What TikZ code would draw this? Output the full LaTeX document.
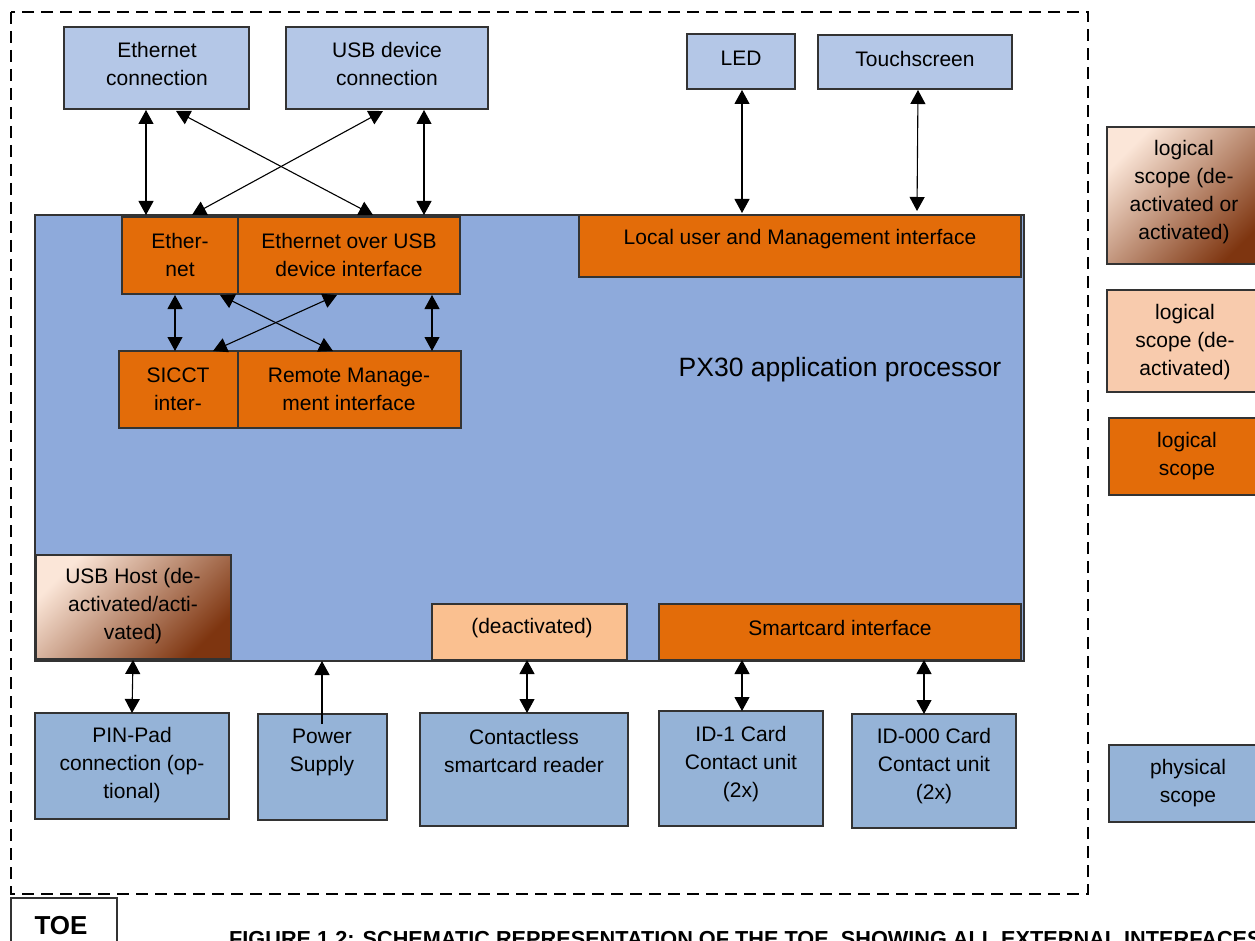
\documentclass[tikz,border=0pt]{standalone}
\usepackage{fontspec}
\setmainfont{Liberation Sans}
\usetikzlibrary{arrows.meta}
\definecolor{topblue}{HTML}{B4C7E7}
\definecolor{procblue}{HTML}{8EAADB}
\definecolor{botblue}{HTML}{95B3D7}
\definecolor{orng}{HTML}{E36C09}
\definecolor{deact}{HTML}{FAC090}
\definecolor{deactleg}{HTML}{F8CBAD}
\definecolor{gradlight}{HTML}{FBE6D8}
\definecolor{gradmid}{HTML}{CCA898}
\definecolor{graddark}{HTML}{7E3510}
\definecolor{bordr}{HTML}{333333}
\newcommand\BX[6]{\node[#6, anchor=north west, minimum width={#4-#2}, minimum height={#5-#3}] (#1) at (#2,#3) {};}
\tikzset{
  bx/.style={draw=bordr, line width=1.1pt, inner sep=0pt, outer sep=0pt, rectangle},
  topbox/.style={bx, fill=topblue},
  botbox/.style={bx, fill=botblue},
  orbox/.style={bx, fill=orng},
  deactbox/.style={bx, fill=deact},
  gradbox/.style={bx, top color=gradlight, middle color=gradmid, bottom color=graddark, shading angle=45},
  txt/.style={font=\fontsize{21}{28}\selectfont, align=center, inner sep=0pt},
  biarr/.style={line width=1.1pt, {Triangle[width=15pt,length=14pt]}-{Triangle[width=15pt,length=14pt]}},
  uparr/.style={line width=1.1pt, -{Triangle[width=15pt,length=14pt]}},
}
\begin{document}
\begin{tikzpicture}[x=1pt,y=-1pt]
\useasboundingbox (0,0) rectangle (1255,941);
\fill[white] (0,0) rectangle (1255,941);
% outer dashed TOE boundary
\draw[line width=2.2pt, dash pattern=on 12pt off 7pt] (11,12) rectangle (1088,894);
% top external boxes
\BX{ethc}{64}{27}{249}{109}{topbox}
\BX{usbd}{286}{27}{488}{109}{topbox}
\BX{led}{687}{34}{795}{89}{topbox}
\BX{touch}{818}{35}{1012}{89}{topbox}
\node[txt] (ethc-t) at (157,64) {Ethernet\\connection};
\node[txt] (usbd-t) at (387,64) {USB device\\connection};
\node[txt] (led-t) at (741,58) {LED};
\node[txt] (touch-t) at (915,59) {Touchscreen};
% processor
\BX{proc}{35}{215}{1024}{661}{bx, fill=procblue}
\node[font=\fontsize{26.5}{32}\selectfont, anchor=base, inner sep=0pt] (proc-t) at (840,376) {PX30 application processor};
% interfaces
\BX{eth}{122}{217}{238}{294}{orbox}
\BX{ethusb}{238}{217}{460}{294}{orbox}
\BX{sicct}{119}{351}{238}{428}{orbox}
\BX{remote}{238}{351}{461}{428}{orbox}
\BX{local}{579}{215}{1021}{277}{orbox}
\node[txt] (eth-t) at (180,255) {Ether-\\net};
\node[txt] (ethusb-t) at (349,255) {Ethernet over USB\\device interface};
\node[txt] (sicct-t) at (178,389) {SICCT\\inter-};
\node[txt] (remote-t) at (349,389) {Remote Manage-\\ment interface};
\node[txt] (local-t) at (800,239) {Local user and Management interface};
\BX{usbhost}{36}{555}{231}{659}{gradbox}
\node[txt] (usbhost-t) at (133,606) {USB Host (de-\\activated/acti-\\vated)};
\BX{deactif}{432}{604}{627}{660}{deactbox}
\node[txt] (deactif-t) at (532,628) {(deactivated)};
\BX{smart}{659}{604}{1021}{660}{orbox}
\node[txt] (smart-t) at (840,628) {Smartcard interface};
% bottom external boxes
\BX{pinpad}{35}{713}{229}{819}{botbox}
\BX{power}{258}{714}{387}{820}{botbox}
\BX{cless}{420}{713}{628}{826}{botbox}
\BX{idone}{659}{711}{823}{826}{botbox}
\BX{idzero}{852}{714}{1016}{828}{botbox}
\node[txt] (pinpad-t) at (132,765) {PIN-Pad\\connection (op-\\tional)};
\node[txt] (power-t) at (322,752) {Power\\Supply};
\node[txt] (cless-t) at (524,751) {Contactless\\smartcard reader};
\node[txt] (idone-t) at (741,764) {ID-1 Card\\Contact unit\\(2x)};
\node[txt] (idzero-t) at (934,766) {ID-000 Card\\Contact unit\\(2x)};
% legend
\BX{legA}{1107}{127}{1265}{264}{gradbox}
\BX{legB}{1107}{290}{1265}{392}{bx, fill=deactleg}
\BX{legC}{1109}{418}{1265}{495}{orbox}
\BX{legD}{1109}{745}{1265}{822}{botbox}
\node[txt] (legA-t) at (1184,192) {logical\\scope (de-\\activated or\\activated)};
\node[txt] (legB-t) at (1185,342) {logical\\scope (de-\\activated)};
\node[txt] (legC-t) at (1187,456) {logical\\scope};
\node[txt] (legD-t) at (1188,783) {physical\\scope};
% TOE label and caption
\draw[line width=1.1pt, draw=bordr] (11,898) rectangle (117,960);
\node[font=\fontsize{26}{30}\selectfont\bfseries, anchor=base, inner sep=0pt] (toe-t) at (61,934) {TOE};
\node[font=\fontsize{21.7}{26}\selectfont\bfseries, anchor=base west, inner sep=0pt] (caption) at (229,946) {FIGURE 1.2: SCHEMATIC REPRESENTATION OF THE TOE, SHOWING ALL EXTERNAL INTERFACES};
% connectors
\draw[biarr] ([xshift=82pt,yshift=-1pt]ethc.south west) -- ([xshift=24pt,yshift=2pt]eth.north west);
\draw[biarr] ([xshift=112pt,yshift=-2pt]ethc.south west) -- ([xshift=135pt,yshift=2pt]ethusb.north west);
\draw[biarr] ([xshift=97pt,yshift=-2pt]usbd.south west) -- ([xshift=70pt,yshift=2pt]eth.north west);
\draw[biarr] ([xshift=138pt,yshift=-1pt]usbd.south west) -- ([xshift=186pt,yshift=2pt]ethusb.north west);
\draw[biarr] ([xshift=53pt,yshift=-1pt]eth.south west) -- ([xshift=56pt]sicct.north west);
\draw[biarr] ([xshift=98pt,yshift=-1pt]eth.south west) -- ([xshift=95pt]remote.north west);
\draw[biarr] ([xshift=99pt,yshift=-1pt]ethusb.south west) -- ([xshift=94pt]sicct.north west);
\draw[biarr] ([xshift=194pt,yshift=-1pt]ethusb.south west) -- ([xshift=194pt]remote.north west);
\draw[biarr] ([xshift=55pt,yshift=-1pt]led.south west) -- ([xshift=163pt,yshift=2pt]local.north west);
\draw[biarr] ([xshift=100pt,yshift=-1pt]touch.south west) -- ([xshift=338pt,yshift=4pt]local.north west);
\draw[biarr] ([xshift=97pt,yshift=-1pt]usbhost.south west) -- ([xshift=97pt]pinpad.north west);
\draw[uparr] ([xshift=64pt,yshift=-10pt]power.north west) -- ([xshift=287pt]proc.south west);
\draw[biarr] ([xshift=95pt]deactif.south west) -- ([xshift=107pt]cless.north west);
\draw[biarr] ([xshift=83pt]smart.south west) -- ([xshift=83pt]idone.north west);
\draw[biarr] ([xshift=265pt]smart.south west) -- ([xshift=72pt]idzero.north west);
\end{tikzpicture}
\end{document}
